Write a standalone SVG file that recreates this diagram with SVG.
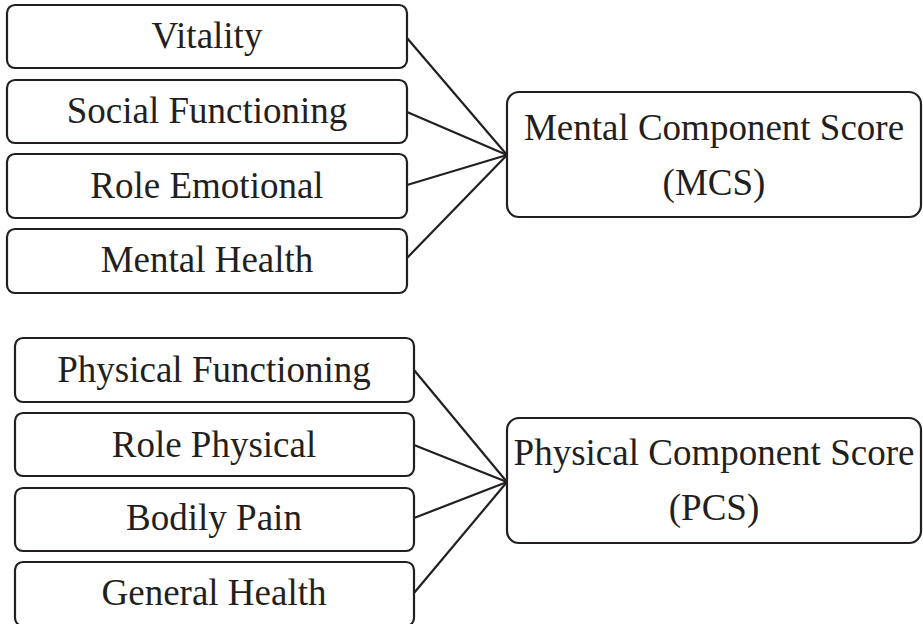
<svg xmlns="http://www.w3.org/2000/svg" width="923" height="624" viewBox="0 0 923 624">
<style>
.box{fill:#fff;stroke:#231f20;stroke-width:2.2}
.t{font-family:"Liberation Serif","Times New Roman",serif;font-size:37px;fill:#231f20;text-anchor:middle}
.c{stroke:#231f20;stroke-width:2.2;fill:none}
</style>
<rect width="923" height="624" fill="#fff"/>
<g id="connectors">
<line class="c" x1="407" y1="38" x2="507" y2="155"/>
<line class="c" x1="407" y1="112" x2="507" y2="155"/>
<line class="c" x1="407" y1="185" x2="507" y2="155"/>
<line class="c" x1="407" y1="258" x2="507" y2="155"/>
<line class="c" x1="414" y1="370" x2="507" y2="482"/>
<line class="c" x1="414" y1="445" x2="507" y2="482"/>
<line class="c" x1="414" y1="518" x2="507" y2="482"/>
<line class="c" x1="414" y1="593" x2="507" y2="482"/>
</g>
<g id="vitality"><rect class="box" x="7" y="5" width="400" height="63" rx="8"/><text class="t" x="207" y="48">Vitality</text></g>
<g id="social-functioning"><rect class="box" x="7" y="80" width="400" height="63" rx="8"/><text class="t" x="207" y="123">Social Functioning</text></g>
<g id="role-emotional"><rect class="box" x="7" y="154" width="400" height="64" rx="8"/><text class="t" x="207" y="198">Role Emotional</text></g>
<g id="mental-health"><rect class="box" x="7" y="229" width="400" height="64" rx="8"/><text class="t" x="207" y="272">Mental Health</text></g>
<g id="mcs"><rect class="box" x="507" y="92" width="414" height="125" rx="12"/><text class="t" x="714" y="140">Mental Component Score</text><text class="t" x="714" y="195">(MCS)</text></g>
<g id="physical-functioning"><rect class="box" x="15" y="338" width="399" height="64" rx="8"/><text class="t" x="214" y="382">Physical Functioning</text></g>
<g id="role-physical"><rect class="box" x="15" y="413" width="399" height="63" rx="8"/><text class="t" x="214" y="457">Role Physical</text></g>
<g id="bodily-pain"><rect class="box" x="15" y="488" width="399" height="63" rx="8"/><text class="t" x="214" y="530">Bodily Pain</text></g>
<g id="general-health"><rect class="box" x="15" y="562" width="399" height="64" rx="8"/><text class="t" x="214" y="605">General Health</text></g>
<g id="pcs"><rect class="box" x="507" y="418" width="414" height="125" rx="12"/><text class="t" x="714" y="465">Physical Component Score</text><text class="t" x="714" y="520">(PCS)</text></g>
</svg>
